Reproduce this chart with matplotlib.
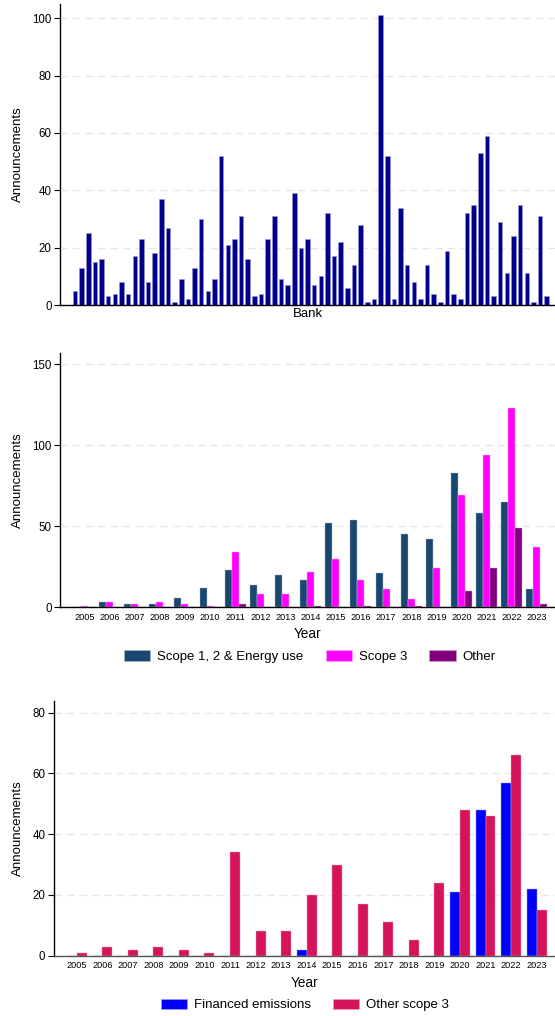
import numpy as np
import matplotlib
matplotlib.use("Agg")
import matplotlib.pyplot as plt
from matplotlib.patches import Patch

plt.rcParams['font.family'] = ['Liberation Sans', 'DejaVu Sans']

# 每家银行的公告数量
bank_counts = [5, 13, 25, 15, 16, 3, 4, 8, 4, 17, 23, 8, 18, 37, 27, 1, 9, 2, 13, 30,
               5, 9, 52, 21, 23, 31, 16, 3, 4, 23, 31, 9, 7, 39, 20, 23, 7, 10, 32, 17,
               22, 6, 14, 28, 1, 2, 101, 52, 2, 34, 14, 8, 2, 14, 4, 1, 19, 4, 2, 32,
               35, 53, 59, 3, 29, 11, 24, 35, 11, 1, 31, 3]

years = [str(y) for y in range(2005, 2024)]
scope12 = [0, 3, 2, 2, 6, 12, 23, 14, 20, 17, 52, 54, 21, 45, 42, 83, 58, 65, 11]
scope3 = [1, 3, 2, 3, 2, 1, 34, 8, 8, 22, 30, 17, 11, 5, 24, 69, 94, 123, 37]
other = [0, 0, 0, 0, 0, 0, 2, 0, 0, 1, 0, 1, 0, 1, 0, 10, 24, 49, 2]

financed = [0, 0, 0, 0, 0, 0, 0, 0, 0, 2, 0, 0, 0, 0, 0, 21, 48, 57, 22]
other_scope3 = [1, 3, 2, 3, 2, 1, 34, 8, 8, 20, 30, 17, 11, 5, 24, 48, 46, 66, 15]

c_bank = '#00008B'
c_s12 = '#1A476F'
c_s3 = '#FF00FF'
c_other = '#800080'
c_fin = '#0000FF'
c_os3 = '#D6145A'


def style_axis(ax, yticks, bottom_color='black'):
    # Stata 风格：虚线网格、无上右边框
    ax.set_yticks(yticks)
    ax.yaxis.grid(True, linestyle=(0, (6, 4)), color='#e6e6e6', linewidth=0.9)
    ax.set_axisbelow(True)
    for s in ['top', 'right']:
        ax.spines[s].set_visible(False)
    ax.spines['left'].set_linewidth(1.0)
    ax.spines['bottom'].set_linewidth(1.0)
    ax.spines['bottom'].set_color(bottom_color)
    ax.tick_params(axis='y', labelsize=8.3, length=4, width=0.8, pad=2)
    ax.set_ylabel('Announcements', fontsize=9.5, labelpad=6)


fig = plt.figure(figsize=(5.55, 10.16), dpi=100)

# 上图：各银行
ax1 = fig.add_axes([0.1081, 0.6998, 0.8919, 0.2963])
x1 = np.arange(len(bank_counts))
ax1.bar(x1, bank_counts, width=0.68, color=c_bank, edgecolor='#9a9ad8', linewidth=0.4)
ax1.set_xlim(-2.26, 72.25)
ax1.set_ylim(0, 105)
ax1.set_xticks([])
style_axis(ax1, [0, 20, 40, 60, 80, 100])
ax1.set_xlabel('Bank', fontsize=9.5, labelpad=2.5)

# 中图：按年份的范围
ax2 = fig.add_axes([0.1081, 0.4023, 0.8919, 0.2506])
x2 = np.arange(len(years))
w = 0.277
ax2.bar(x2 - w, scope12, width=w, color=c_s12, edgecolor='#a8b8c8', linewidth=0.3)
ax2.bar(x2, scope3, width=w, color=c_s3, edgecolor='#ffb0ff', linewidth=0.3)
ax2.bar(x2 + w, other, width=w, color=c_other, edgecolor='#d0a0d0', linewidth=0.3)
ax2.set_xlim(-0.97, 18.72)
ax2.set_ylim(0, 157)
ax2.set_xticks(x2)
ax2.set_xticklabels(years, fontsize=6.6)
ax2.tick_params(axis='x', length=0, pad=4)
style_axis(ax2, [0, 50, 100, 150])
ax2.set_xlabel('Year', fontsize=9.8, labelpad=4)
handles2 = [Patch(facecolor=c_s12, edgecolor='#a8b8c8', linewidth=0.4),
            Patch(facecolor=c_s3, edgecolor='#ffb0ff', linewidth=0.4),
            Patch(facecolor=c_other, edgecolor='#d0a0d0', linewidth=0.4)]
fig.legend(handles2, ['Scope 1, 2 & Energy use', 'Scope 3', 'Other'],
           loc='center', bbox_to_anchor=(0.558, 0.3537), ncol=3, frameon=False,
           fontsize=9.5, handlelength=2.0, handleheight=0.85, handletextpad=0.5,
           columnspacing=1.7)

# 下图：融资排放与其他范围3
ax3 = fig.add_axes([0.0968, 0.0594, 0.9032, 0.2510])
w3 = 0.39
ax3.bar(x2 - w3 / 2, financed, width=w3, color=c_fin, edgecolor='#a0a0ff', linewidth=0.3)
ax3.bar(x2 + w3 / 2, other_scope3, width=w3, color=c_os3, edgecolor='#f0a0c0', linewidth=0.3)
ax3.set_xlim(-0.9, 18.72)
ax3.set_ylim(0, 84)
ax3.set_xticks(x2)
ax3.set_xticklabels(years, fontsize=6.6)
ax3.tick_params(axis='x', length=0, pad=4)
style_axis(ax3, [0, 20, 40, 60, 80], bottom_color='#555555')
ax3.set_xlabel('Year', fontsize=9.8, labelpad=4)
handles3 = [Patch(facecolor=c_fin, edgecolor='#a0a0ff', linewidth=0.4),
            Patch(facecolor=c_os3, edgecolor='#f0a0c0', linewidth=0.4)]
fig.legend(handles3, ['Financed emissions', 'Other scope 3'],
           loc='center', bbox_to_anchor=(0.549, 0.0108), ncol=2, frameon=False,
           fontsize=9.5, handlelength=2.0, handleheight=0.85, handletextpad=0.5,
           columnspacing=1.7)

fig.savefig('out.png', dpi=100)
